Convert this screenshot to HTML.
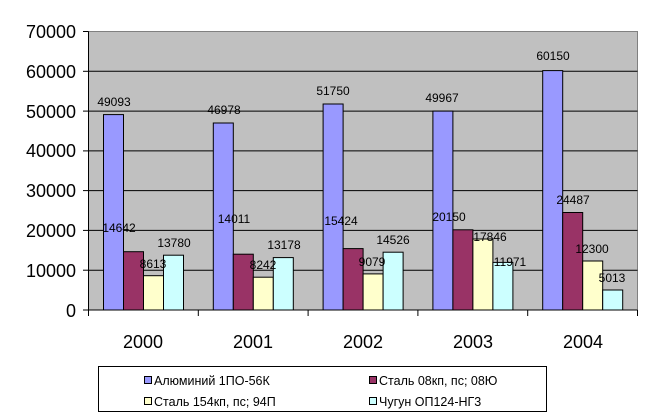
<!DOCTYPE html>
<html><head><meta charset="utf-8"><style>
body{margin:0;background:#fff}
svg{display:block;font-family:"Liberation Sans",Arial,sans-serif}
</style></head><body>
<svg width="648" height="420" viewBox="0 0 648 420" xmlns="http://www.w3.org/2000/svg">
<rect x="88.5" y="31.5" width="549" height="278.5" fill="#c0c0c0" stroke="#808080"/>
<g stroke="#000" stroke-width="1">
<line x1="88.5" y1="71.3" x2="637.5" y2="71.3"/>
<line x1="88.5" y1="111.1" x2="637.5" y2="111.1"/>
<line x1="88.5" y1="150.9" x2="637.5" y2="150.9"/>
<line x1="88.5" y1="190.6" x2="637.5" y2="190.6"/>
<line x1="88.5" y1="230.4" x2="637.5" y2="230.4"/>
<line x1="88.5" y1="270.2" x2="637.5" y2="270.2"/>
<line x1="88.5" y1="31.5" x2="88.5" y2="316"/>
<line x1="83" y1="310" x2="637.5" y2="310"/>
<line x1="83" y1="31.5" x2="88.5" y2="31.5"/><line x1="83" y1="71.3" x2="88.5" y2="71.3"/><line x1="83" y1="111.1" x2="88.5" y2="111.1"/><line x1="83" y1="150.9" x2="88.5" y2="150.9"/><line x1="83" y1="190.6" x2="88.5" y2="190.6"/><line x1="83" y1="230.4" x2="88.5" y2="230.4"/><line x1="83" y1="270.2" x2="88.5" y2="270.2"/>
<line x1="198.3" y1="310" x2="198.3" y2="316"/><line x1="308.1" y1="310" x2="308.1" y2="316"/><line x1="417.9" y1="310" x2="417.9" y2="316"/><line x1="527.7" y1="310" x2="527.7" y2="316"/><line x1="637.5" y1="310" x2="637.5" y2="316"/>
</g>
<g font-size="18" text-anchor="end" fill="#000">
<text x="76" y="38">70000</text><text x="76" y="78">60000</text><text x="76" y="118">50000</text><text x="76" y="157">40000</text><text x="76" y="197">30000</text><text x="76" y="237">20000</text><text x="76" y="277">10000</text><text x="76" y="317">0</text>
</g>
<g font-size="18" text-anchor="middle">
<text x="143" y="348">2000</text><text x="253" y="348">2001</text><text x="363" y="348">2002</text><text x="473" y="348">2003</text><text x="583" y="348">2004</text>
</g>
<g stroke="#000" stroke-width="1">
<rect x="103.5" y="114.6" width="20" height="195.4" fill="#9999ff"/>
<rect x="123.5" y="251.7" width="20" height="58.3" fill="#993366"/>
<rect x="143.5" y="275.7" width="20" height="34.3" fill="#ffffcc"/>
<rect x="163.5" y="255.2" width="20" height="54.8" fill="#ccffff"/>
<rect x="213.3" y="123.0" width="20" height="187" fill="#9999ff"/>
<rect x="233.3" y="254.2" width="20" height="55.8" fill="#993366"/>
<rect x="253.3" y="277.2" width="20" height="32.8" fill="#ffffcc"/>
<rect x="273.3" y="257.6" width="20" height="52.4" fill="#ccffff"/>
<rect x="323.1" y="104.0" width="20" height="206" fill="#9999ff"/>
<rect x="343.1" y="248.6" width="20" height="61.4" fill="#993366"/>
<rect x="363.1" y="273.9" width="20" height="36.1" fill="#ffffcc"/>
<rect x="383.1" y="252.2" width="20" height="57.8" fill="#ccffff"/>
<rect x="432.9" y="111.1" width="20" height="198.9" fill="#9999ff"/>
<rect x="452.9" y="229.8" width="20" height="80.2" fill="#993366"/>
<rect x="472.9" y="239.0" width="20" height="71" fill="#ffffcc"/>
<rect x="492.9" y="262.4" width="20" height="47.6" fill="#ccffff"/>
<rect x="542.7" y="70.6" width="20" height="239.4" fill="#9999ff"/>
<rect x="562.7" y="212.5" width="20" height="97.5" fill="#993366"/>
<rect x="582.7" y="261.0" width="20" height="49" fill="#ffffcc"/>
<rect x="602.7" y="290.0" width="20" height="20" fill="#ccffff"/>
</g>
<g font-size="12" text-anchor="middle" fill="#000">
<text x="114" y="106">49093</text><text x="224" y="114">46978</text><text x="333" y="95">51750</text><text x="442" y="102">49967</text><text x="553" y="60">60150</text>
<text x="119" y="232">14642</text><text x="234" y="223">14011</text><text x="341" y="225">15424</text><text x="449" y="221">20150</text><text x="573" y="204">24487</text>
<text x="153" y="268">8613</text><text x="263" y="269">8242</text><text x="372" y="266">9079</text><text x="490" y="241">17846</text><text x="592" y="253">12300</text>
<text x="174" y="247">13780</text><text x="284" y="249">13178</text><text x="393" y="244">14526</text><text x="510" y="266">11971</text><text x="612" y="282">5013</text>
</g>
<rect x="98.5" y="366.5" width="448" height="45" fill="#fff" stroke="#000"/>
<g stroke="#000" stroke-width="1">
<rect x="144.5" y="376.5" width="7" height="7" fill="#9999ff"/>
<rect x="369.5" y="376.5" width="7" height="7" fill="#993366"/>
<rect x="144.5" y="397.5" width="7" height="7" fill="#ffffcc"/>
<rect x="369.5" y="397.5" width="7" height="7" fill="#ccffff"/>
</g>
<g font-size="12.5" fill="#000">
<text x="154" y="385">Алюминий 1ПО-56К</text>
<text x="379" y="385">Сталь 08кп, пс; 08Ю</text>
<text x="154" y="406">Сталь 154кп, пс; 94П</text>
<text x="379" y="406">Чугун ОП124-НГ3</text>
</g>
</svg>
</body></html>
